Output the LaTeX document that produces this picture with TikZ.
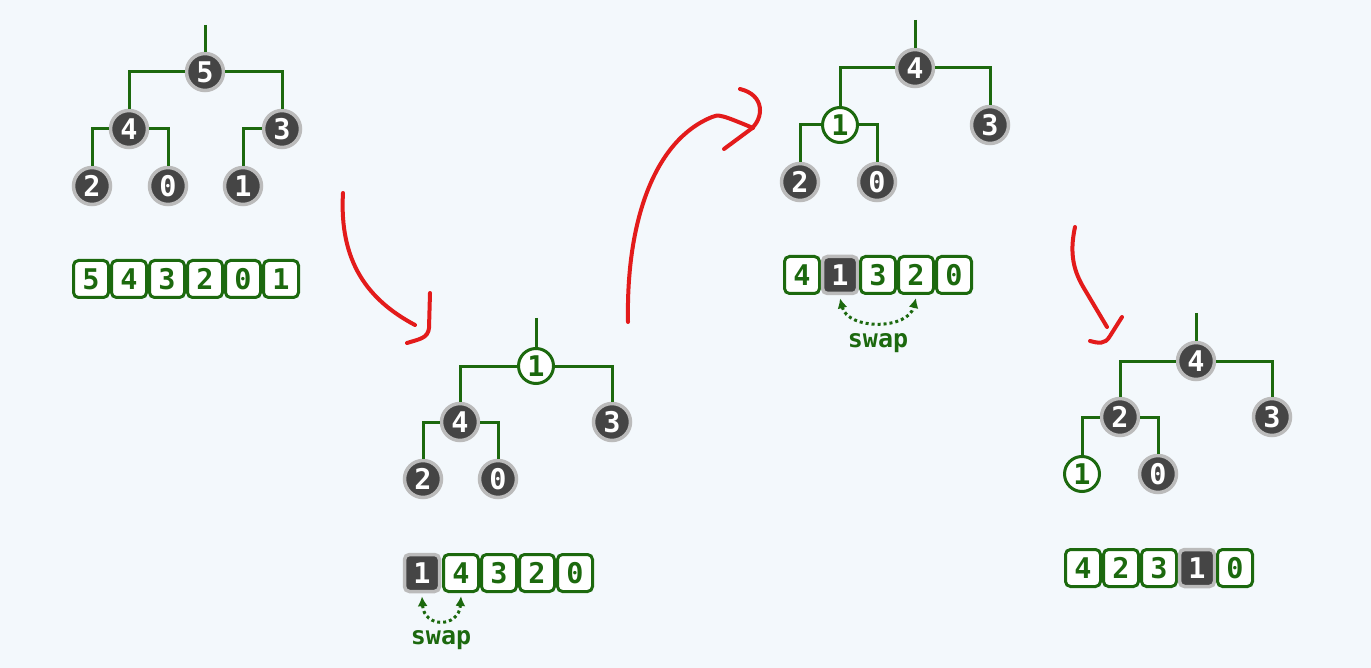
\documentclass[tikz,border=0pt]{standalone}
\usepackage{fontspec}
\setmonofont{DejaVu Sans Mono}
\usetikzlibrary{arrows.meta}
\definecolor{bg}{HTML}{F3F8FC}
\definecolor{grn}{HTML}{1C690E}
\definecolor{dk}{HTML}{454545}
\definecolor{ring}{HTML}{BBBBBB}
\definecolor{rd}{HTML}{E31B1B}
\newcommand{\numfnt}{\fontsize{28.5}{30}\selectfont\ttfamily\bfseries}
\tikzset{
  hn/.style={circle, fill=dk, draw=ring, line width=3.5pt, minimum size=37pt, inner sep=0pt, text=white, font=\numfnt},
  hg/.style={circle, fill=white, draw=grn, line width=3pt, minimum size=35pt, inner sep=0pt, text=grn, font=\numfnt},
  cell/.style={rectangle, rounded corners=5pt, fill=white, draw=grn, line width=3pt, minimum width=35pt, minimum height=37pt, inner sep=0pt, text=grn, font=\numfnt},
  dcell/.style={cell, fill=dk, draw=ring, line width=3.5pt, text=white},
  edge/.style={draw=grn, line width=3pt},
  redl/.style={draw=rd, line width=4pt, line cap=round, line join=round},
  swp/.style={draw=grn, line width=3pt, dash pattern=on 3pt off 3pt, {Latex[length=10pt,width=10pt]}-{Latex[length=10pt,width=10pt]}},
  swaptxt/.style={text=grn, font=\fontsize{25}{27}\selectfont\ttfamily\bfseries, inner sep=0pt}
}
\begin{document}
\begin{tikzpicture}[x=1pt,y=-1pt]
\path[fill=bg] (0,0) rectangle (1371,668);

% ---------- Tree 1 ----------
\coordinate (t1) at (205,25);
\node[hn] (a5) at (205,72) {5};
\node[hn] (a4) at (129,129) {4};
\node[hn] (a3) at (282,129) {3};
\node[hn] (a2) at (92,186) {2};
\node[hn] (a0) at (168,186) {0};
\node[hn] (a1) at (243,186) {1};
\draw[edge] (t1) -- (a5);
\draw[edge] (a5) -| (a4);
\draw[edge] (a5) -| (a3);
\draw[edge] (a4) -| (a2);
\draw[edge] (a4) -| (a0);
\draw[edge] (a3) -| (a1);
\node[cell] (c11) at (91,279) {5};
\node[cell] (c12) at (129,279) {4};
\node[cell] (c13) at (167,279) {3};
\node[cell] (c14) at (205,279) {2};
\node[cell] (c15) at (243,279) {0};
\node[cell] (c16) at (281,279) {1};

% ---------- Tree 2 ----------
\coordinate (t2) at (536,318);
\node[hg] (b1) at (536,366) {1};
\node[hn] (b4) at (460,422) {4};
\node[hn] (b3) at (612,422) {3};
\node[hn] (b2) at (423,479) {2};
\node[hn] (b0) at (498,479) {0};
\draw[edge] (t2) -- (b1);
\draw[edge] (b1) -| (b4);
\draw[edge] (b1) -| (b3);
\draw[edge] (b4) -| (b2);
\draw[edge] (b4) -| (b0);
\node[dcell] (c21) at (422,573) {1};
\node[cell] (c22) at (461,573) {4};
\node[cell] (c23) at (499,573) {3};
\node[cell] (c24) at (537,573) {2};
\node[cell] (c25) at (575,573) {0};
\draw[swp] ([yshift=-3pt]c21.south) .. controls +(2,32) and +(-2,32) .. ([yshift=-3pt]c22.south);
\node[swaptxt] (s2) at (441,640) {swap};

% ---------- Tree 3 ----------
\coordinate (t3) at (915,20);
\node[hn] (d4) at (915,68) {4};
\node[hg] (d1) at (840,125) {1};
\node[hn] (d3) at (990,125) {3};
\node[hn] (d2) at (800,182) {2};
\node[hn] (d0) at (877,182) {0};
\draw[edge] (t3) -- (d4);
\draw[edge] (d4) -| (d1);
\draw[edge] (d4) -| (d3);
\draw[edge] (d1) -| (d2);
\draw[edge] (d1) -| (d0);
\node[cell] (c31) at (802,275) {4};
\node[dcell] (c32) at (840,275) {1};
\node[cell] (c33) at (878,275) {3};
\node[cell] (c34) at (916,275) {2};
\node[cell] (c35) at (954,275) {0};
\draw[swp] ([yshift=-3pt]c32.south) .. controls +(8,32) and +(-8,32) .. ([yshift=-3pt]c34.south);
\node[swaptxt] (s3) at (878,343) {swap};

% ---------- Tree 4 ----------
\coordinate (t4) at (1196,313);
\node[hn] (e4) at (1196,361) {4};
\node[hn] (e2) at (1120,417) {2};
\node[hn] (e3) at (1272,417) {3};
\node[hg] (e1) at (1082,474) {1};
\node[hn] (e0) at (1158,474) {0};
\draw[edge] (t4) -- (e4);
\draw[edge] (e4) -| (e2);
\draw[edge] (e4) -| (e3);
\draw[edge] (e2) -| (e1);
\draw[edge] (e2) -| (e0);
\node[cell] (c41) at (1083,568) {4};
\node[cell] (c42) at (1121,568) {2};
\node[cell] (c43) at (1159,568) {3};
\node[dcell] (c44) at (1197,568) {1};
\node[cell] (c45) at (1235,568) {0};

% ---------- red hand-drawn arrows ----------
\draw[redl] (343,193) .. controls (339,262) and (368,300) .. (415,325);
\draw[redl] (430,293) -- (429,328) .. controls (428,338) and (420,339) .. (407,343);

\draw[redl] (628,322) .. controls (626,220) and (655,140) .. (712,117)
  .. controls (718,114) and (722,115) .. (753,128);
\draw[redl] (724,149) -- (751,129) .. controls (764,118) and (765,95) .. (740,89);

\draw[redl] (1075,227) .. controls (1069,255) and (1074,272) .. (1085,290) -- (1107,327);
\draw[redl] (1122,317) -- (1110,336) .. controls (1105,345) and (1098,343) .. (1090,341);
\end{tikzpicture}
\end{document}
